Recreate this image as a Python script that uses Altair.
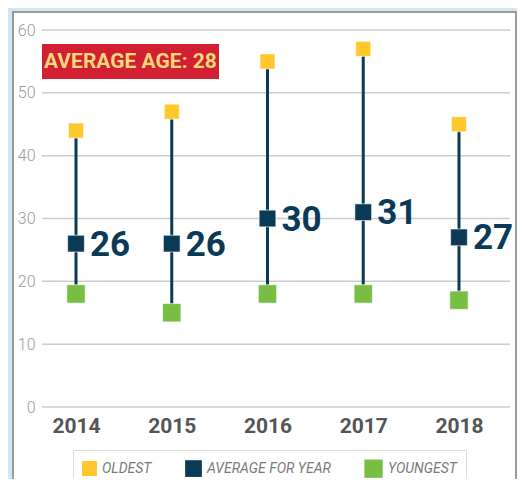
import altair as alt
import pandas as pd

years = ["2014", "2015", "2016", "2017", "2018"]
oldest = [44, 47, 55, 57, 45]
average = [26, 26, 30, 31, 27]
youngest = [18, 15, 18, 18, 17]
series_names = ["OLDEST", "AVERAGE FOR YEAR", "YOUNGEST"]
series_colors = ["#FFC72C", "#0B3A57", "#78BE43"]
y_ticks = [0, 10, 20, 30, 40, 50, 60]
badge_text = "AVERAGE AGE: 28"

FONT = "Roboto, Liberation Sans, sans-serif"

wide = pd.DataFrame({"year": years, "oldest": oldest, "average": average, "youngest": youngest})
long = pd.concat([
    pd.DataFrame({"year": years, "value": oldest, "series": "OLDEST"}),
    pd.DataFrame({"year": years, "value": average, "series": "AVERAGE FOR YEAR"}),
    pd.DataFrame({"year": years, "value": youngest, "series": "YOUNGEST"}),
])
grid_df = pd.DataFrame({"v": y_ticks})
one = pd.DataFrame({"a": [0]})

xs = alt.Scale(type="point", domain=years, range=[34, 417], padding=0)
ys = alt.Scale(domain=[0, 60])

panel = alt.Chart(one).mark_rect(fill="white", stroke="#9a9a9a", strokeWidth=2).encode(
    x=alt.value(-29), x2=alt.value(474), y=alt.value(-18), y2=alt.value(480)
)

grid = alt.Chart(grid_df).mark_rule(color="#cccccc", strokeWidth=1.5).encode(
    y=alt.Y("v:Q", scale=ys,
            axis=alt.Axis(values=y_ticks, grid=False, domain=False, ticks=False, title=None,
                          labelFont=FONT, labelFontSize=16, labelFontWeight=300,
                          labelColor="#9a9a9a", labelPadding=7, zindex=1))
)

badge = alt.Chart(one).mark_rect(fill="#D21F32").encode(
    x=alt.value(0), x2=alt.value(177), y=alt.value(14), y2=alt.value(49)
)
badge_label = alt.Chart(one).mark_text(
    text=badge_text, font=FONT, fontWeight="bold", fontSize=21, color="#F7D77C",
    align="center", baseline="middle"
).encode(x=alt.value(88.5), y=alt.value(32))

rules = alt.Chart(wide).mark_rule(color="#0B3A57", strokeWidth=3).encode(
    x=alt.X("year:N", scale=xs,
            axis=alt.Axis(title=None, domain=False, ticks=False, grid=False, labelAngle=0,
                          labelFont=FONT, labelFontWeight="bold", labelFontSize=21,
                          labelColor="#555555", labelPadding=8, zindex=1)),
    y=alt.Y("youngest:Q", scale=ys),
    y2="oldest:Q",
)

squares = alt.Chart(long).mark_square(opacity=1, stroke="white", strokeWidth=1, strokeOpacity=0.6).encode(
    x=alt.X("year:N", scale=xs),
    y=alt.Y("value:Q", scale=ys),
    color=alt.Color("series:N", scale=alt.Scale(domain=series_names, range=series_colors),
                    legend=alt.Legend(title=None, orient="none", legendX=31, legendY=420,
                                      direction="horizontal")),
    size=alt.Size("series:N", scale=alt.Scale(domain=series_names, range=[225, 335, 225]), legend=None),
)

labels = alt.Chart(wide).mark_text(
    font=FONT, fontWeight="bold", fontSize=35, color="#0B3A57", align="left",
    baseline="middle", dx=14, dy=1
).encode(
    x=alt.X("year:N", scale=xs),
    y=alt.Y("average:Q", scale=ys),
    text="average:Q",
)

chart = alt.layer(panel, grid, badge, badge_label, rules, squares, labels).properties(
    width=468, height=377,
    padding={"left": 34, "top": 22, "right": 7, "bottom": 72},
    autosize=alt.AutoSizeParams(type="none"),
    background="#D0E6F4",
).configure_view(stroke=None).configure_legend(
    strokeColor="#dddddd", fillColor="white", padding=9, symbolType="square",
    symbolSize=225, symbolStrokeWidth=0, labelFont=FONT, labelFontStyle="italic",
    labelFontSize=14, labelColor="#7a7a7a", labelOffset=5, columnPadding=33,
    cornerRadius=0, zindex=1,
)

chart.save("out.html", embed_options={"renderer": "svg", "actions": False})
